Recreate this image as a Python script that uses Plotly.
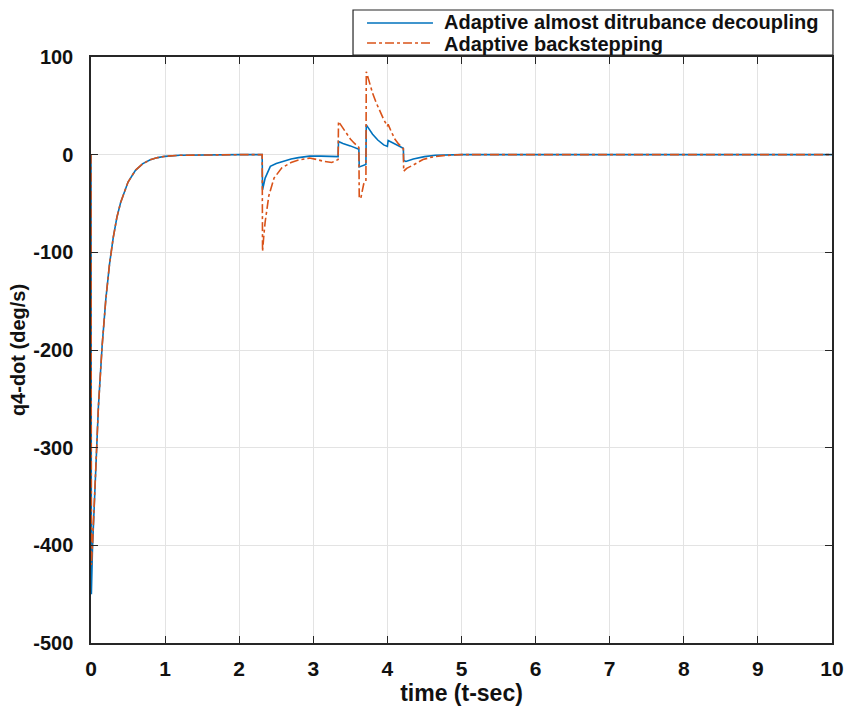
import plotly.graph_objects as go

# ---- data ----
t_add = [0, 0.005, 0.02, 0.05, 0.08, 0.1, 0.15, 0.2, 0.25, 0.3, 0.35, 0.4, 0.5, 0.6, 0.7,
         0.8, 0.9, 1.0, 1.2, 1.5, 2.0, 2.31, 2.315, 2.35, 2.42, 2.5, 2.6, 2.7, 2.8, 2.95,
         3.1, 3.3, 3.335, 3.34, 3.4, 3.5, 3.6, 3.615, 3.62, 3.7, 3.71, 3.715, 3.75, 3.8,
         3.87, 3.95, 4.0, 4.01, 4.05, 4.12, 4.2, 4.215, 4.22, 4.25, 4.35, 4.5, 4.65, 4.8,
         5.0, 10.0]
q_add = [0, -450, -403, -341, -289, -258, -196, -148, -112, -85, -64, -49, -28, -16, -9.2,
         -5.3, -3.0, -1.7, -0.6, -0.1, 0, 0, -36, -24, -12, -9, -6.5, -4.5, -3, -1.5,
         -1.5, -2, -2, 13.5, 11.5, 9, 6, 5.5, -12.5, -10, -10, 30.5, 26, 21,
         15, 10, 8.5, 14.5, 13, 10, 7, 6.5, -6, -7, -4.5, -2, -0.6, -0.2,
         0, 0]

t_back = [0, 0.005, 0.02, 0.05, 0.08, 0.1, 0.15, 0.2, 0.25, 0.3, 0.35, 0.4, 0.5, 0.6, 0.7,
          0.8, 0.9, 1.0, 1.2, 1.5, 2.0, 2.31, 2.315, 2.33, 2.35, 2.40, 2.47, 2.575, 2.7,
          2.8, 2.95, 3.05, 3.15, 3.25, 3.335, 3.34, 3.4, 3.45, 3.5, 3.55, 3.615, 3.62,
          3.64, 3.68, 3.71, 3.715, 3.75, 3.8, 3.85, 3.9, 3.95, 4.0, 4.01, 4.05, 4.1, 4.15,
          4.2, 4.215, 4.22, 4.26, 4.34, 4.48, 4.6, 4.75, 5.0, 10.0]
q_back = [0, -420, -400, -341, -289, -258, -196, -148, -112, -85, -64, -49, -28, -16, -9.2,
          -5.3, -3.0, -1.7, -0.6, -0.1, 0, 0, -99, -85, -69, -42, -24, -13.5, -8,
          -5.5, -3.5, -5, -7, -8, -5, 34, 27, 22, 16, 12, 7.5, -44,
          -45, -30, -28, 85, 75, 63, 53, 44, 36, 29, 31, 24, 16, 11,
          7, 6, -17, -14, -11, -5, -2.5, -1, 0, 0]

series_names = ["Adaptive almost ditrubance decoupling", "Adaptive backstepping"]
x_tick_vals = [0, 1, 2, 3, 4, 5, 6, 7, 8, 9, 10]
x_tick_text = ["0", "1", "2", "3", "4", "5", "6", "7", "8", "9", "10"]
y_tick_vals = [-500, -400, -300, -200, -100, 0, 100]
y_tick_text = ["-500", "-400", "-300", "-200", "-100", "0", "100"]

BLUE = "#0072BD"
ORANGE = "#D95319"
AXC = "#262626"
FONT = "Liberation Sans, Arial, sans-serif"

fig = go.Figure()
fig.add_trace(go.Scatter(x=t_add, y=q_add, mode="lines", name=series_names[0],
                         line=dict(color=BLUE, width=1.6)))
fig.add_trace(go.Scatter(x=t_back, y=q_back, mode="lines", name=series_names[1],
                         line=dict(color=ORANGE, width=1.6, dash="dashdot")))

axis_common = dict(showline=True, linecolor=AXC, linewidth=1.5, mirror="ticks",
                   ticks="inside", ticklen=7, tickcolor=AXC, tickwidth=1,
                   showgrid=True, gridcolor="#e3e3e3", gridwidth=1, zeroline=False)

fig.update_xaxes(range=[0, 10], tickvals=x_tick_vals, ticktext=x_tick_text,
                 tickfont=dict(family=FONT, size=21, color="#111", weight="bold"),
                 ticklabelstandoff=6,
                 title=dict(text="time (t-sec)", standoff=0,
                            font=dict(family=FONT, size=23, color="#111", weight="bold")),
                 **axis_common)
fig.update_yaxes(range=[-500, 100], tickvals=y_tick_vals, ticktext=y_tick_text,
                 tickfont=dict(family=FONT, size=20, color="#111", weight="bold"),
                 ticklabelstandoff=12,
                 title=dict(text="q4-dot (deg/s)", standoff=2,
                            font=dict(family=FONT, size=20, color="#111", weight="bold")),
                 **axis_common)

# manual legend (tight MATLAB-like box above top-right)
fig.add_shape(type="rect", xref="paper", yref="paper", x0=0.3536, x1=1.0013, y0=1.0034, y1=1.0802,
              line=dict(color=AXC, width=1.2), fillcolor="white", layer="above")
fig.add_shape(type="line", xref="paper", yref="paper", x0=0.3725, x1=0.4615, y0=1.058, y1=1.058,
              line=dict(color=BLUE, width=1.6))
fig.add_shape(type="line", xref="paper", yref="paper", x0=0.3725, x1=0.4615, y0=1.0239, y1=1.0239,
              line=dict(color=ORANGE, width=1.6, dash="dashdot"))
fig.add_annotation(xref="paper", yref="paper", x=0.4737, y=1.0597, text=series_names[0],
                   showarrow=False, xanchor="left", yanchor="middle",
                   font=dict(family=FONT, size=20, color="#111", weight="bold"))
fig.add_annotation(xref="paper", yref="paper", x=0.4737, y=1.0222, text=series_names[1],
                   showarrow=False, xanchor="left", yanchor="middle",
                   font=dict(family=FONT, size=20, color="#111", weight="bold"))

fig.update_layout(width=849, height=709, showlegend=False,
                  margin=dict(l=91, r=17, t=57, b=66, autoexpand=False),
                  plot_bgcolor="white", paper_bgcolor="white")

fig.write_html("out.html")
